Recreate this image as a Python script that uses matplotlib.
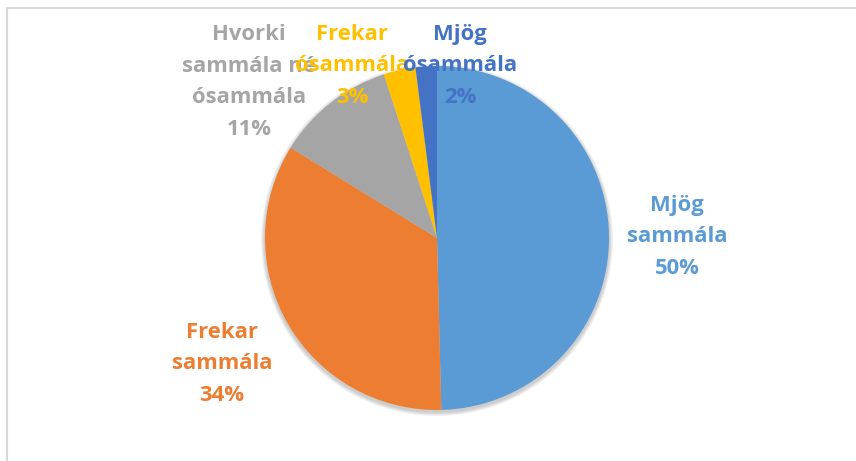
import matplotlib.pyplot as plt
from matplotlib.patches import Circle

categories = ["Mjög\nsammála", "Frekar\nsammála", "Hvorki\nsammála né\nósammála",
              "Frekar\nósammála", "Mjög\nósammála"]
values = [49.6, 34.2, 11.2, 3.0, 2.0]
colors = ["#5B9BD5", "#ED7D31", "#A5A5A5", "#FFC000", "#4472C4"]

# label anchors in pixel coords (x centre, baseline of last line from top)
label_pos = [(677, 274), (222, 401), (249, 135), (352, 103), (460, 103)]

W, H = 856, 461
fig = plt.figure(figsize=(W / 100, H / 100), dpi=100)
ax = fig.add_axes([0, 0, 1, 1])

cx, cy, r = 437, H - 238, 172

# soft shadow under the pie
for i in range(4):
    ax.add_patch(Circle((cx, cy - 2), r + 4 - i, color="black", alpha=0.05, lw=0, zorder=1))

ax.pie(values, colors=colors, startangle=90, counterclock=False,
       center=(cx, cy), radius=r, frame=True,
       wedgeprops=dict(linewidth=0, zorder=2))
ax.set_xlim(0, W)
ax.set_ylim(0, H)
ax.set_aspect("equal")
ax.axis("off")

for name, v, c, (x, y) in zip(categories, values, colors, label_pos):
    txt = name + "\n" + f"{v:.0f}%"
    ax.text(x, H - y, txt, ha="center", va="baseline", multialignment="center",
            color=c, fontsize=15.8, fontweight="bold", family="Open Sans",
            linespacing=1.66, zorder=5)

# chart area border (top and left edges visible)
ax.plot([7, W], [H - 8, H - 8], color="#D9D9D9", lw=1.5, zorder=0, clip_on=False)
ax.plot([7, 7], [0, H - 8], color="#D9D9D9", lw=1.5, zorder=0, clip_on=False)

fig.savefig("out.png", dpi=100)
